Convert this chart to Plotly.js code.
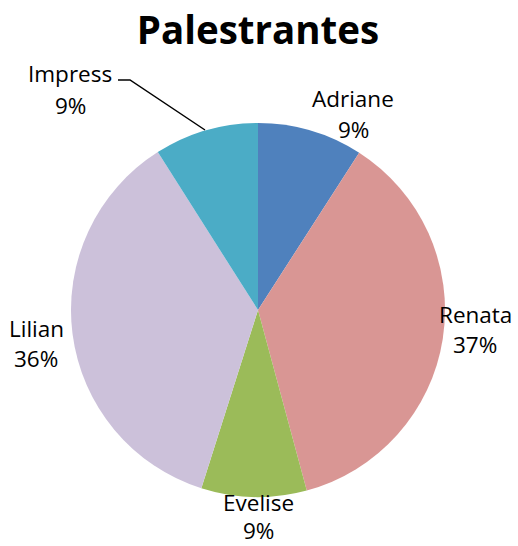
<!DOCTYPE html>
<html>
<head>
<meta charset="utf-8">
<script src="https://cdn.plot.ly/plotly-3.0.1.min.js"></script>
<style>html,body{margin:0;padding:0;background:#fff;}#chart{width:518px;height:546px;}</style>
</head>
<body>
<div id="chart"></div>
<script>
var labels = ["Adriane", "Renata", "Evelise", "Lilian", "Impress"];
var values = [9.1, 36.7, 9.1, 36.1, 9.0];
var colors = ["#4F81BD", "#D99694", "#9BBB59", "#CCC1DA", "#4BACC6"];

var W = 518, H = 546;
function px(x){ return x / W; }
function py(y){ return 1 - y / H; }

var total = values.reduce(function(a,b){return a+b;}, 0);
var pct = values.map(function(v){ return Math.round(v / total * 100) + "%"; });

// label positions in pixels: [x centre, name line y, percent line y]
var labelPos = [[353, 98, 129], [475, 314, 344], [258, 502, 530], [36, 328, 358], [70, 74, 106]];

var annotations = [];
labels.forEach(function(l, i){
  var f = {family: "'Open Sans', sans-serif", size: 22.5, color: "#000"};
  annotations.push({
    text: l, xref: "paper", yref: "paper",
    x: px(labelPos[i][0]), y: py(labelPos[i][1]),
    xanchor: "center", yanchor: "middle", showarrow: false, font: f, borderpad: 0
  });
  annotations.push({
    text: pct[i], xref: "paper", yref: "paper",
    x: px(labelPos[i][0]), y: py(labelPos[i][2]),
    xanchor: "center", yanchor: "middle", showarrow: false, font: f, borderpad: 0
  });
});

var data = [{
  type: "pie",
  labels: labels,
  values: values,
  sort: false,
  direction: "clockwise",
  rotation: 0,
  marker: {colors: colors, line: {width: 0}},
  textinfo: "none",
  hoverinfo: "label+percent",
  domain: {x: [71 / W, 445 / W], y: [49 / H, 423 / H]},
  showlegend: false
}];

var layout = {
  width: W, height: H,
  margin: {l: 0, r: 0, t: 0, b: 0},
  paper_bgcolor: "#fff",
  title: {
    text: "<b>Palestrantes</b>",
    font: {family: "'Open Sans', sans-serif", size: 38.5, color: "#000"},
    x: 258 / W, xanchor: "center",
    y: 1 - 31 / H, yanchor: "middle", yref: "container"
  },
  annotations: annotations,
  shapes: [{
    type: "path",
    xref: "paper", yref: "paper",
    path: "M " + px(118) + "," + py(80) + " L " + px(130) + "," + py(80) + " L " + px(205) + "," + py(130),
    line: {color: "#000", width: 1.5}
  }]
};

Plotly.newPlot("chart", data, layout, {displayModeBar: false, staticPlot: true});
</script>
</body>
</html>
